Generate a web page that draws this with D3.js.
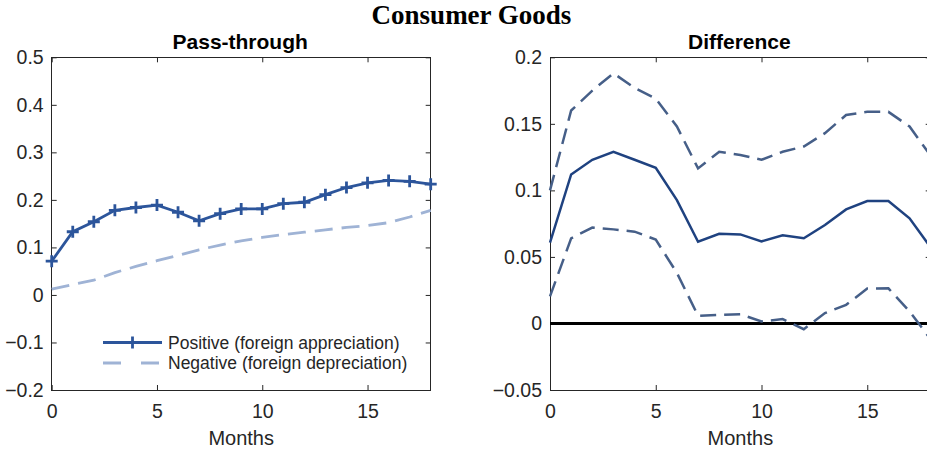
<!DOCTYPE html>
<html><head><meta charset="utf-8">
<script src="https://cdn.jsdelivr.net/npm/d3@7/dist/d3.min.js"></script>
<style>
html,body{margin:0;padding:0;background:#fff;overflow:hidden;}
svg{display:block;}
text{font-family:"Liberation Sans",Arial,sans-serif;}
</style></head>
<body>
<svg id="chart" width="927" height="454"></svg>
<script>
const months = d3.range(0, 19);
const positive = [0.071,0.133,0.154,0.178,0.184,0.189,0.174,0.156,0.171,0.181,0.181,0.192,0.195,0.211,0.226,0.236,0.241,0.239,0.233];
const negative = [0.012,0.022,0.031,0.047,0.060,0.072,0.083,0.095,0.105,0.114,0.121,0.127,0.132,0.137,0.142,0.146,0.152,0.164,0.178];
const diffMid   = [0.0607,0.112,0.123,0.129,0.123,0.117,0.0927,0.0614,0.0674,0.0669,0.0617,0.0662,0.064,0.074,0.0857,0.092,0.092,0.079,0.057];
const diffUpper = [0.100,0.160,0.175,0.188,0.177,0.169,0.148,0.1165,0.129,0.1266,0.123,0.129,0.133,0.143,0.1566,0.159,0.159,0.148,0.126];
const diffLower = [0.0203,0.064,0.072,0.0707,0.069,0.063,0.038,0.0058,0.0065,0.007,0.0015,0.0033,-0.0043,0.0078,0.014,0.0262,0.0264,0.009,-0.012];
const xTicks = [0,5,10,15];
const yTicksLeft = [-0.2,-0.1,0,0.1,0.2,0.3,0.4,0.5];
const yTicksRight = [-0.05,0,0.05,0.1,0.15,0.2];
const mainTitle = "Consumer Goods";
const leftTitle = "Pass-through";
const rightTitle = "Difference";
const xLabel = "Months";
const legendLabels = ["Positive (foreign appreciation)","Negative (foreign depreciation)"];

const svg = d3.select("#chart");
const axisColor = "#262626";

svg.append("text").attr("x",471.5).attr("y",24).attr("text-anchor","middle")
  .style("font-family",'"Liberation Serif","Times New Roman",serif').style("font-weight","bold")
  .style("font-size","27px").attr("fill","#000").text(mainTitle);

function panel(x0, x1, yDomain, yTicks, title, fmt){
  const x = d3.scaleLinear().domain([0,18]).range([x0,x1]);
  const y = d3.scaleLinear().domain(yDomain).range([390,57.3]);
  const g = svg.append("g");
  g.append("rect").attr("x",x0).attr("y",57.3).attr("width",x1-x0).attr("height",390-57.3)
    .attr("fill","none").attr("stroke",axisColor).attr("stroke-width",1).attr("shape-rendering","crispEdges");
  const tl = 5;
  const ax = g.append("g").attr("transform",`translate(0,390)`)
    .call(d3.axisBottom(x).tickValues(xTicks).tickSizeInner(-tl).tickSizeOuter(0).tickPadding(14).tickFormat(d3.format("d")));
  const axT = g.append("g").attr("transform",`translate(0,57.3)`)
    .call(d3.axisTop(x).tickValues(xTicks).tickSizeInner(-tl).tickSizeOuter(0).tickFormat(""));
  const ay = g.append("g").attr("transform",`translate(${x0},0)`)
    .call(d3.axisLeft(y).tickValues(yTicks).tickSizeInner(-tl).tickSizeOuter(0).tickPadding(8).tickFormat(fmt));
  const ayR = g.append("g").attr("transform",`translate(${x1},0)`)
    .call(d3.axisRight(y).tickValues(yTicks).tickSizeInner(-tl).tickSizeOuter(0).tickFormat(""));
  [ax,axT,ay,ayR].forEach(a=>{
    a.select(".domain").remove();
    a.selectAll("line").attr("stroke",axisColor);
    a.selectAll("text").attr("fill",axisColor).style("font-size","19.5px").style("font-family",'"Liberation Sans",Arial,sans-serif');
  });
  g.append("text").attr("x",(x0+Math.min(x1,930.7))/2 - 1).attr("y",49).attr("text-anchor","middle")
    .style("font-weight","bold").style("font-size","21px").attr("fill","#000").text(title);
  g.append("text").attr("x",(x0+x1)/2).attr("y",445).attr("text-anchor","middle")
    .style("font-size","20px").attr("fill",axisColor).text(xLabel);
  return {x,y,g};
}

const fmtL = d => d===0 ? "0" : d3.format(".1f")(d);
const fmtR = d => d===0 ? "0" : (Math.abs(d*100)%10===0 ? d3.format(".1f")(d) : d3.format(".2f")(d));

const L = panel(51.7, 430.7, [-0.2,0.5], yTicksLeft, leftTitle, fmtL);
const R = panel(550, 930.7, [-0.05,0.2], yTicksRight, rightTitle, fmtR);

const posColor = "#2c559b", negColor = "#9fb3d5";
const lineL = d3.line().x((d,i)=>L.x(months[i])).y(d=>L.y(d));
L.g.append("path").datum(negative).attr("d",lineL).attr("fill","none").attr("stroke",negColor)
  .attr("stroke-width",2.8).attr("stroke-dasharray","18,9");
L.g.append("path").datum(positive).attr("d",lineL).attr("fill","none").attr("stroke",posColor)
  .attr("stroke-width",2.8);
L.g.selectAll(".mk").data(positive).join("path").attr("class","mk")
  .attr("transform",(d,i)=>`translate(${L.x(months[i])},${L.y(d)})`)
  .attr("d","M-6,0H6M0,-6V6").attr("stroke",posColor).attr("stroke-width",2.8).attr("fill","none");

// legend
const lg = L.g.append("g");
const ly1 = 342.5, ly2 = 363;
lg.append("line").attr("x1",103).attr("x2",162).attr("y1",ly1).attr("y2",ly1).attr("stroke",posColor).attr("stroke-width",2.8);
lg.append("path").attr("d",`M${132.5-6},${ly1}H${132.5+6}M132.5,${ly1-6}V${ly1+6}`).attr("stroke",posColor).attr("stroke-width",2.8);
lg.append("line").attr("x1",103).attr("x2",162).attr("y1",ly2).attr("y2",ly2).attr("stroke",negColor).attr("stroke-width",2.8).attr("stroke-dasharray","18,20");
lg.append("text").attr("x",168).attr("y",ly1+6).style("font-size","17.5px").attr("fill","#262626").text(legendLabels[0]);
lg.append("text").attr("x",168).attr("y",ly2+6).style("font-size","17.5px").attr("fill","#262626").text(legendLabels[1]);

// right panel lines
const lineR = d3.line().x((d,i)=>R.x(months[i])).y(d=>R.y(d));
R.g.append("line").attr("x1",R.x(0)).attr("x2",R.x(18)).attr("y1",R.y(0)).attr("y2",R.y(0)).attr("stroke","#000").attr("stroke-width",3);
R.g.append("path").datum(diffUpper).attr("d",lineR).attr("fill","none").attr("stroke","#465f88").attr("stroke-width",2.5).attr("stroke-dasharray","16,8");
R.g.append("path").datum(diffLower).attr("d",lineR).attr("fill","none").attr("stroke","#465f88").attr("stroke-width",2.5).attr("stroke-dasharray","16,8");
R.g.append("path").datum(diffMid).attr("d",lineR).attr("fill","none").attr("stroke","#1f4280").attr("stroke-width",2.5);
</script>
</body></html>
